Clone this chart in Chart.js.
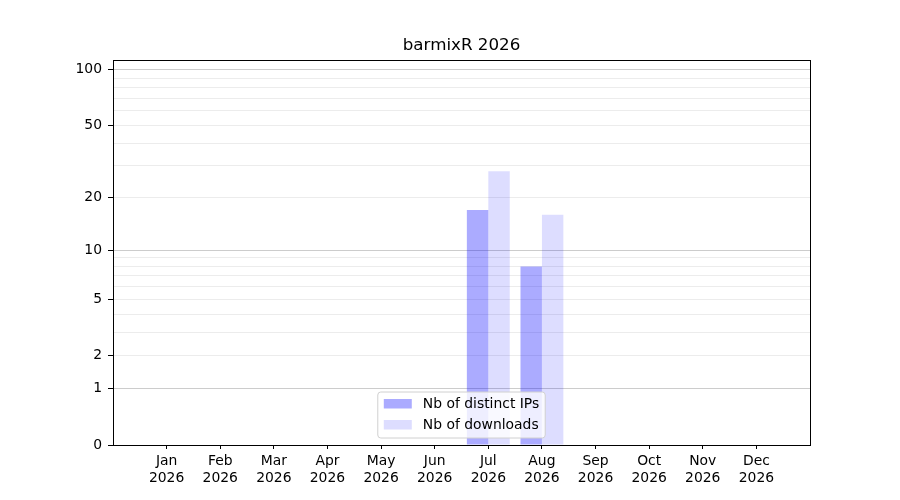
<!DOCTYPE html>
<html lang="en">
<head>
    <meta charset="utf-8" />
    <title>barmixR 2026</title>
    <script src="https://cdn.jsdelivr.net/npm/chart.js"></script>
    <style>
        html, body { margin: 0; padding: 0; background: #ffffff; }
        .grafico_container { width: 900px; height: 500px; position: relative; }
    </style>
</head>
<body>
  <div class="grafico_container">
    <canvas id="grafico_barmix"></canvas>
  </div>

<script>
    // Dados do gráfico
    const meses = ["Jan", "Feb", "Mar", "Apr", "May", "Jun", "Jul", "Aug", "Sep", "Oct", "Nov", "Dec"];
    const ano = "2026";
    const ipsDistintos = [0, 0, 0, 0, 0, 0, 17, 8, 0, 0, 0, 0];
    const downloads = [0, 0, 0, 0, 0, 0, 28, 16, 0, 0, 0, 0];
    const yTicks = [0, 1, 2, 3, 4, 5, 6, 7, 8, 9, 10, 20, 30, 40, 50, 60, 70, 80, 90, 100];
    const yLabels = [0, 1, 2, 5, 10, 20, 50, 100];
    const yMajor = [1, 10, 100];
    const yMax = 113;

    const fonte = "'DejaVu Sans', sans-serif";
    const tamanhoFonte = 13.9;

    // Escala log10(1 + x), como no gráfico original
    class Log1pScale extends Chart.LinearScale {
        determineDataLimits() {
            this.min = this.options.min;
            this.max = this.options.max;
        }
        buildTicks() {
            return yTicks.map((v) => ({ value: v }));
        }
        getPixelForValue(valor) {
            const t = (v) => Math.log10(1 + v);
            return this.getPixelForDecimal((t(valor) - t(this.min)) / (t(this.max) - t(this.min)));
        }
        getValueForPixel(pixel) {
            const t = (v) => Math.log10(1 + v);
            const d = this.getDecimalForPixel(pixel);
            return Math.pow(10, t(this.min) + d * (t(this.max) - t(this.min))) - 1;
        }
    }
    Log1pScale.id = "log1p";
    Log1pScale.defaults = {};
    Chart.register(Log1pScale);

    // Moldura completa da área do gráfico
    const moldura = {
        id: "moldura",
        afterDraw(chart) {
            const { ctx, chartArea } = chart;
            ctx.save();
            ctx.strokeStyle = "#000000";
            ctx.lineWidth = 1;
            ctx.strokeRect(Math.round(chartArea.left) + 0.5, Math.round(chartArea.top) + 0.5,
                Math.round(chartArea.right - chartArea.left), Math.round(chartArea.bottom - chartArea.top));
            ctx.restore();
        }
    };

    // Legenda dentro da área do gráfico, embaixo e centralizada
    const legendaInterna = {
        id: "legendaInterna",
        afterDraw(chart) {
            const { ctx, chartArea } = chart;
            const datasets = chart.data.datasets;
            ctx.save();
            ctx.font = tamanhoFonte + "px " + fonte;
            const larguraTexto = Math.max(...datasets.map((d) => ctx.measureText(d.label).width));
            const largura = 6 + 28 + 11 + larguraTexto + 6;
            const altura = 46;
            const x = (chartArea.left + chartArea.right) / 2 - largura / 2;
            const y = chartArea.bottom - 7 - altura;

            ctx.beginPath();
            ctx.roundRect(x, y, largura, altura, 3);
            ctx.fillStyle = "rgba(255,255,255,0.8)";
            ctx.fill();
            ctx.strokeStyle = "#d0d0d0";
            ctx.lineWidth = 1;
            ctx.stroke();

            datasets.forEach((d, i) => {
                const cy = y + 11.5 + i * 21;
                ctx.fillStyle = d.backgroundColor;
                ctx.fillRect(x + 6, cy - 4.5, 28, 9.5);
                ctx.fillStyle = "#000000";
                ctx.textBaseline = "middle";
                ctx.textAlign = "left";
                ctx.fillText(d.label, x + 45, cy + 1);
            });
            ctx.restore();
        }
    };

    document.addEventListener("DOMContentLoaded", () => {
        const ctx = document.getElementById("grafico_barmix").getContext("2d");

        new Chart(ctx, {
            type: "bar",
            data: {
                datasets: [{
                    label: "Nb of distinct IPs",
                    backgroundColor: "rgba(0,0,255,0.33)",
                    data: ipsDistintos.map((v, i) => ({ x: i + 1, y: v })),
                    borderWidth: 0,
                    categoryPercentage: 0.8,
                    barPercentage: 1.0,
                }, {
                    label: "Nb of downloads",
                    backgroundColor: "rgba(0,0,255,0.135)",
                    data: downloads.map((v, i) => ({ x: i + 1, y: v })),
                    borderWidth: 0,
                    categoryPercentage: 0.8,
                    barPercentage: 1.0,
                }],
            },
            options: {
                responsive: true,
                maintainAspectRatio: false,
                animation: false,
                layout: { padding: { left: 0, right: 90, top: 0, bottom: 0 } },
                plugins: {
                    legend: { display: false },
                    tooltip: { enabled: false },
                    title: {
                        display: true,
                        fullSize: false, // centralizado sobre a área do gráfico
                        text: "barmixR 2026",
                        color: "#000000",
                        font: { family: fonte, size: 16.7, weight: "normal" },
                        padding: { top: 36, bottom: 4 },
                    },
                },
                scales: {
                    x: {
                        type: "linear",
                        min: 0,
                        max: 13,
                        offset: false,
                        afterBuildTicks: (scale) => {
                            scale.ticks = meses.map((_, i) => ({ value: i + 1 }));
                        },
                        afterFit: (scale) => { scale.height = 55; },
                        ticks: {
                            autoSkip: false,
                            maxRotation: 0,
                            padding: 4,
                            color: "#000000",
                            font: { family: fonte, size: tamanhoFonte },
                            callback: (v) => [meses[v - 1], ano],
                        },
                        grid: {
                            offset: false,
                            drawOnChartArea: false,
                            drawTicks: true,
                            tickLength: 4,
                            tickColor: "#000000",
                        },
                        border: { display: true, color: "#000000" },
                    },
                    y: {
                        type: "log1p",
                        min: 0,
                        max: yMax,
                        afterFit: (scale) => { scale.width = 113; },
                        ticks: {
                            autoSkip: false,
                            padding: 6,
                            color: "#000000",
                            font: { family: fonte, size: tamanhoFonte },
                            callback: (v) => (yLabels.includes(v) ? String(v) : ""),
                        },
                        grid: {
                            drawTicks: true,
                            tickLength: 5,
                            color: (c) => (yMajor.includes(c.tick.value) ? "#cccccc" : "#ececec"),
                            tickColor: (c) => (yLabels.includes(c.tick.value) ? "#000000" : "rgba(0,0,0,0)"),
                        },
                        border: { display: true, color: "#000000" },
                    },
                },
            },
            plugins: [moldura, legendaInterna],
        });
    });
</script>
</body>
</html>
